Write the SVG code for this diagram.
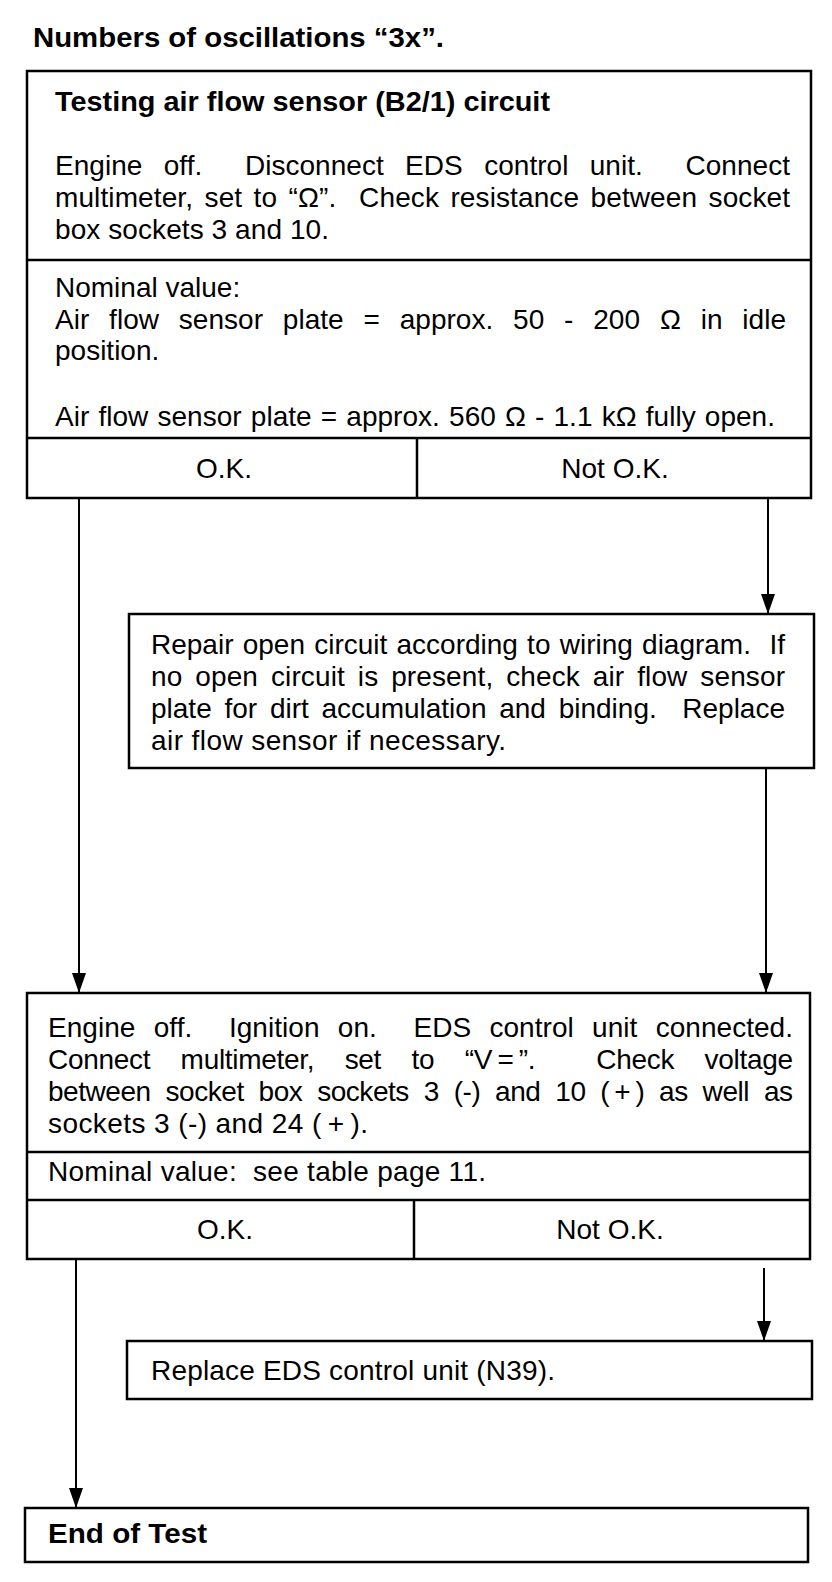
<svg xmlns="http://www.w3.org/2000/svg" width="832" height="1582" viewBox="0 0 832 1582" xml:space="preserve">
<defs>
<marker id="arr" markerWidth="20" markerHeight="14" refX="20" refY="7" orient="auto" markerUnits="userSpaceOnUse" viewBox="0 0 20 14">
<path d="M0,0 L20,7 L0,14 Z" fill="#000"/>
</marker>
<style>
.box{fill:#fff;stroke:#000;stroke-width:2.5}
.div{stroke:#000;stroke-width:2.5;fill:none}
.con{stroke:#000;stroke-width:2;fill:none;marker-end:url(#arr)}
text{font-family:"Liberation Sans",Arial,Helvetica,sans-serif;font-size:28px;fill:#000;white-space:pre}
.b{font-weight:bold}
.c{text-anchor:middle}
</style>
</defs>
<rect width="832" height="1582" fill="#fff"/>
<text id="title" class="b" x="33" y="47" textLength="411" lengthAdjust="spacingAndGlyphs">Numbers of oscillations “3x”.</text>

<g id="connectors">
<line class="con" x1="79" y1="499" x2="79" y2="993"/>
<line class="con" x1="768" y1="499" x2="768" y2="614"/>
<line class="con" x1="766" y1="769" x2="766" y2="993"/>
<line class="con" x1="76" y1="1260" x2="76" y2="1508"/>
<line class="con" x1="764" y1="1268" x2="764" y2="1341"/>
</g>

<g id="node1">
<rect class="box" x="27" y="71" width="784" height="427"/>
<line class="div" x1="27" y1="260" x2="811" y2="260"/>
<line class="div" x1="27" y1="438" x2="811" y2="438"/>
<line class="div" x1="417" y1="438" x2="417" y2="498"/>
<text class="b" x="55" y="111" textLength="495" lengthAdjust="spacingAndGlyphs">Testing air flow sensor (B2/1) circuit</text>
<text x="55" y="175" word-spacing="13.5" textLength="735" lengthAdjust="spacing">Engine off.  Disconnect EDS control unit.  Connect</text>
<text x="55" y="207" word-spacing="3.5" textLength="735" lengthAdjust="spacing">multimeter, set to “Ω”.  Check resistance between socket</text>
<text x="55" y="239" textLength="274" lengthAdjust="spacing">box sockets 3 and 10.</text>
<text x="55" y="297">Nominal value:</text>
<text x="55" y="329" word-spacing="12" textLength="731" lengthAdjust="spacing">Air flow sensor plate = approx. 50 - 200 Ω in idle</text>
<text x="55" y="360">position.</text>
<text x="55" y="426" word-spacing="1.3" textLength="720" lengthAdjust="spacing">Air flow sensor plate = approx. 560 Ω - 1.1 kΩ fully open.</text>
<text class="c" x="224" y="478">O.K.</text>
<text class="c" x="615" y="478">Not O.K.</text>
</g>

<g id="node2">
<rect class="box" x="129" y="614" width="685" height="154"/>
<text x="151" y="654" word-spacing="1.5" textLength="634" lengthAdjust="spacing">Repair open circuit according to wiring diagram.  If</text>
<text x="151" y="686" word-spacing="5" textLength="634" lengthAdjust="spacing">no open circuit is present, check air flow sensor</text>
<text x="151" y="718" word-spacing="5" textLength="634" lengthAdjust="spacing">plate for dirt accumulation and binding.  Replace</text>
<text x="151" y="750" textLength="355" lengthAdjust="spacing">air flow sensor if necessary.</text>
</g>

<g id="node3">
<rect class="box" x="27" y="993" width="783" height="266"/>
<line class="div" x1="27" y1="1152" x2="810" y2="1152"/>
<line class="div" x1="27" y1="1200" x2="810" y2="1200"/>
<line class="div" x1="414" y1="1200" x2="414" y2="1259"/>
<text x="48" y="1037" word-spacing="10.5" textLength="745" lengthAdjust="spacing">Engine off.  Ignition on.  EDS control unit connected.</text>
<text x="48" y="1069" word-spacing="23" textLength="745" lengthAdjust="spacing">Connect multimeter, set to “V&#8201;=&#8201;”.  Check voltage</text>
<text x="48" y="1101" word-spacing="7.5" textLength="745" lengthAdjust="spacing">between socket box sockets 3 (-) and 10 (&#8201;+&#8201;) as well as</text>
<text x="48" y="1133" textLength="320" lengthAdjust="spacing">sockets 3 (-) and 24 (&#8201;+&#8201;).</text>
<text x="48" y="1181" textLength="438" lengthAdjust="spacing">Nominal value:  see table page 11.</text>
<text class="c" x="225" y="1239">O.K.</text>
<text class="c" x="610" y="1239">Not O.K.</text>
</g>

<g id="node4">
<rect class="box" x="127" y="1341" width="685" height="58"/>
<text x="151" y="1380" textLength="404" lengthAdjust="spacing">Replace EDS control unit (N39).</text>
</g>

<g id="node5">
<rect class="box" x="25" y="1508" width="783" height="54"/>
<text class="b" x="48" y="1543" textLength="159" lengthAdjust="spacingAndGlyphs">End of Test</text>
</g>
</svg>
